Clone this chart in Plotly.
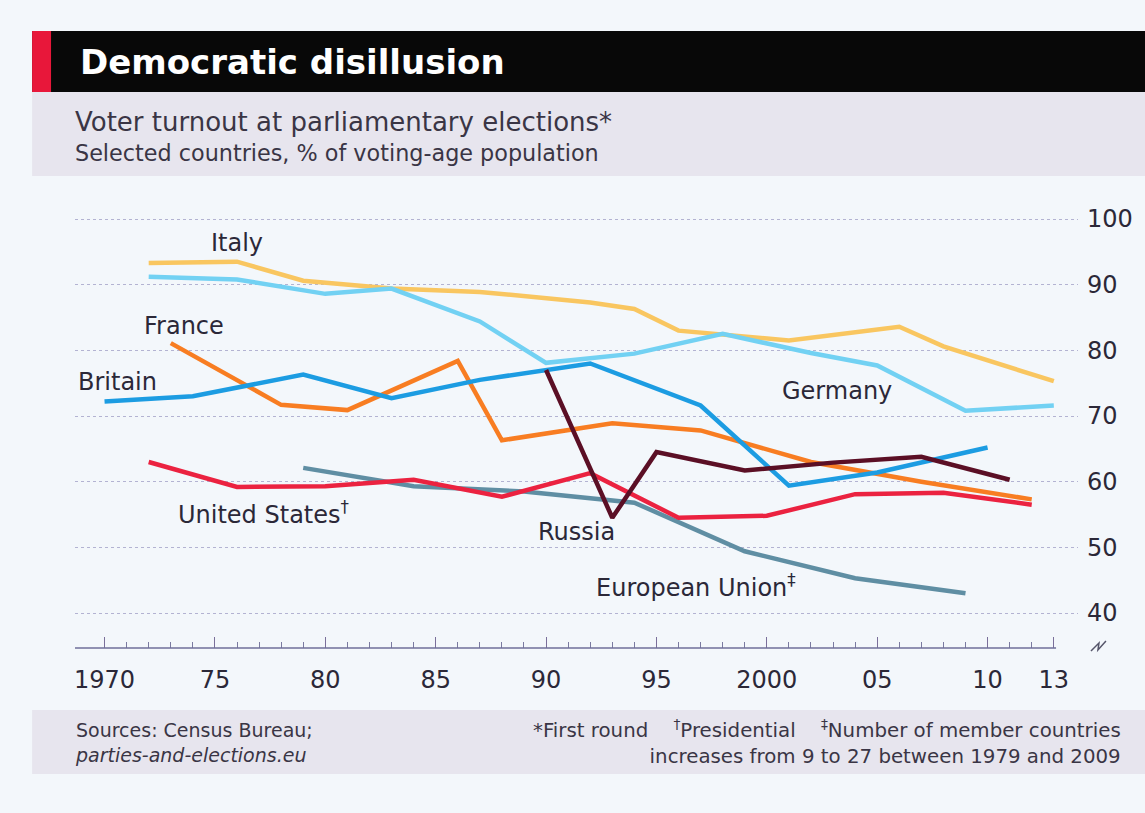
import plotly.graph_objects as go

# ---------------- data ----------------
italy_years = [1972, 1976, 1979, 1983, 1987, 1992, 1994, 1996, 2001, 2006, 2008, 2013]
italy_vals = [93.3, 93.5, 90.6, 89.4, 88.9, 87.3, 86.3, 83.0, 81.5, 83.6, 80.6, 75.3]

germany_years = [1972, 1976, 1980, 1983, 1987, 1990, 1994, 1998, 2002, 2005, 2009, 2013]
germany_vals = [91.2, 90.8, 88.6, 89.4, 84.4, 78.1, 79.5, 82.5, 79.6, 77.7, 70.8, 71.6]

britain_years = [1970, 1974, 1979, 1983, 1987, 1992, 1997, 2001, 2005, 2010]
britain_vals = [72.2, 73.0, 76.3, 72.7, 75.5, 78.0, 71.6, 59.4, 61.4, 65.2]

france_years = [1973, 1978, 1981, 1986, 1988, 1993, 1997, 2002, 2007, 2012]
france_vals = [81.1, 71.7, 70.9, 78.4, 66.3, 68.9, 67.8, 63.0, 60.0, 57.3]

us_years = [1972, 1976, 1980, 1984, 1988, 1992, 1996, 2000, 2004, 2008, 2012]
us_vals = [63.0, 59.2, 59.3, 60.3, 57.7, 61.3, 54.5, 54.8, 58.1, 58.3, 56.5]

eu_years = [1979, 1984, 1989, 1994, 1999, 2004, 2009]
eu_vals = [62.1, 59.3, 58.5, 56.8, 49.4, 45.3, 43.0]

russia_years = [1990, 1993, 1995, 1999, 2003, 2007, 2011]
russia_vals = [77.0, 54.5, 64.5, 61.7, 62.9, 63.8, 60.3]

y_ticks = [40, 50, 60, 70, 80, 90, 100]
x_tickvals = [1970, 1975, 1980, 1985, 1990, 1995, 2000, 2005, 2010, 2013]
x_ticktext = ["1970", "75", "80", "85", "90", "95", "2000", "05", "10", "13"]
minor_years = list(range(1970, 2014))

# ---------------- layout geometry ----------------
W, H = 1145, 813
PL, PR, PT, PB = 75, 1080, 216, 648  # plot area in pixels
FONT = "DejaVu Sans"
TXT = "#2b2838"
SUB = "#3a3545"


def px2x(px):
    return (px - PL) / (PR - PL)


def px2y(py):
    return (PB - py) / (PB - PT)


fig = go.Figure()

series = [
    ("European Union", eu_years, eu_vals, "#5f8ea3"),
    ("Italy", italy_years, italy_vals, "#f9c660"),
    ("Germany", germany_years, germany_vals, "#72d1f3"),
    ("France", france_years, france_vals, "#f87d22"),
    ("Britain", britain_years, britain_vals, "#1c9ce2"),
    ("United States", us_years, us_vals, "#eb2240"),
    ("Russia", russia_years, russia_vals, "#5b0f25"),
]
for name, xs, ys, col in series:
    fig.add_trace(go.Scatter(x=xs, y=ys, mode="lines", name=name,
                             line=dict(color=col, width=4.5),
                             hoverinfo="x+y+name"))

labels = [
    ("Italy", 1976.0, 96.3),
    ("France", 1973.6, 83.7),
    ("Britain", 1970.6, 75.2),
    ("Germany", 2003.2, 73.8),
    ("United States<sup>†</sup>", 1977.2, 55.3),
    ("Russia", 1991.4, 52.3),
    ("European Union<sup>‡</sup>", 1996.8, 44.1),
]
annotations = []
for t, x, y in labels:
    annotations.append(dict(x=x, y=y, xref="x", yref="y", text=t, showarrow=False,
                            font=dict(family=FONT, size=24, color=TXT),
                            xanchor="center", yanchor="middle"))

# title & subtitle
annotations.append(dict(x=px2x(78), y=px2y(62), xref="paper", yref="paper",
                        text="<b>Democratic disillusion</b>", showarrow=False,
                        xanchor="left", yanchor="middle",
                        font=dict(family=FONT, size=34, color="white")))
annotations.append(dict(x=px2x(73), y=px2y(122), xref="paper", yref="paper",
                        text="Voter turnout at parliamentary elections*", showarrow=False,
                        xanchor="left", yanchor="middle",
                        font=dict(family=FONT, size=26, color=SUB)))
annotations.append(dict(x=px2x(73), y=px2y(153), xref="paper", yref="paper",
                        text="Selected countries, % of voting-age population", showarrow=False,
                        xanchor="left", yanchor="middle",
                        font=dict(family=FONT, size=22.3, color=SUB)))
# footer
annotations.append(dict(x=px2x(73), y=px2y(742), xref="paper", yref="paper",
                        text="Sources: Census Bureau;<br><i>parties-and-elections.eu</i>",
                        showarrow=False, xanchor="left", yanchor="middle", align="left",
                        font=dict(family=FONT, size=19, color=SUB)))
annotations.append(dict(x=px2x(1125), y=px2y(742), xref="paper", yref="paper",
                        text="*First round    <sup>†</sup>Presidential    <sup>‡</sup>Number of member countries<br>increases from 9 to 27 between 1979 and 2009",
                        showarrow=False, xanchor="right", yanchor="middle", align="right",
                        font=dict(family=FONT, size=19.8, color=SUB)))

shapes = [
    # title band
    dict(type="rect", xref="paper", yref="paper", x0=px2x(32), x1=px2x(1150),
         y0=px2y(92), y1=px2y(31), fillcolor="#080808", line=dict(width=0), layer="below"),
    dict(type="rect", xref="paper", yref="paper", x0=px2x(32), x1=px2x(51),
         y0=px2y(92), y1=px2y(31), fillcolor="#e8173a", line=dict(width=0), layer="below"),
    # subtitle band
    dict(type="rect", xref="paper", yref="paper", x0=px2x(32), x1=px2x(1150),
         y0=px2y(176), y1=px2y(92), fillcolor="#e7e5ee", line=dict(width=0), layer="below"),
    # footer band
    dict(type="rect", xref="paper", yref="paper", x0=px2x(32), x1=px2x(1150),
         y0=px2y(774), y1=px2y(710), fillcolor="#e7e5ee", line=dict(width=0), layer="below"),
    # x axis line (to 2013)
    dict(type="line", xref="paper", yref="paper", x0=0, x1=px2x(1058),
         y0=0, y1=0, line=dict(color="#6f6f9a", width=1.5)),
    # axis break symbol
    dict(type="path", xref="paper", yref="paper",
         path="M {} {} L {} {} L {} {} L {} {}".format(
             px2x(1093), px2y(651), px2x(1101), px2y(643),
             px2x(1100), px2y(650), px2x(1108), px2y(641)),
         line=dict(color="#55556a", width=1.5)),
]

x0 = 1970 - (104.6 - PL) / 22.12
x1 = 1970 + (PR - 104.6) / 22.12
y1 = 100 + (219 - PT) / 6.567
y0 = 40 - (PB - 613) / 6.567

fig.update_layout(
    width=W, height=H,
    margin=dict(l=PL, r=W - PR, t=PT, b=H - PB),
    paper_bgcolor="#f3f7fb",
    plot_bgcolor="#f3f7fb",
    showlegend=False,
    annotations=annotations,
    shapes=shapes,
    xaxis=dict(range=[x0, x1], tickmode="array", tickvals=x_tickvals, ticktext=x_ticktext,
               ticks="inside", ticklen=11, tickwidth=1.2, tickcolor="#7a6f9a",
               showgrid=False, zeroline=False, showline=False, ticklabelstandoff=15,
               tickfont=dict(family=FONT, size=24, color=TXT),
               minor=dict(tickmode="array", tickvals=minor_years, ticks="inside",
                          ticklen=6, tickwidth=1, tickcolor="#7a7aa0", showgrid=False)),
    yaxis=dict(range=[y0, y1], side="right", tickmode="array", tickvals=y_ticks,
               showgrid=True, gridcolor="#b3b3d2", griddash="dot", gridwidth=1,
               zeroline=False, showline=False, ticks="", ticklabelstandoff=8,
               tickfont=dict(family=FONT, size=24, color=TXT)),
)

fig.write_html("out.html")
